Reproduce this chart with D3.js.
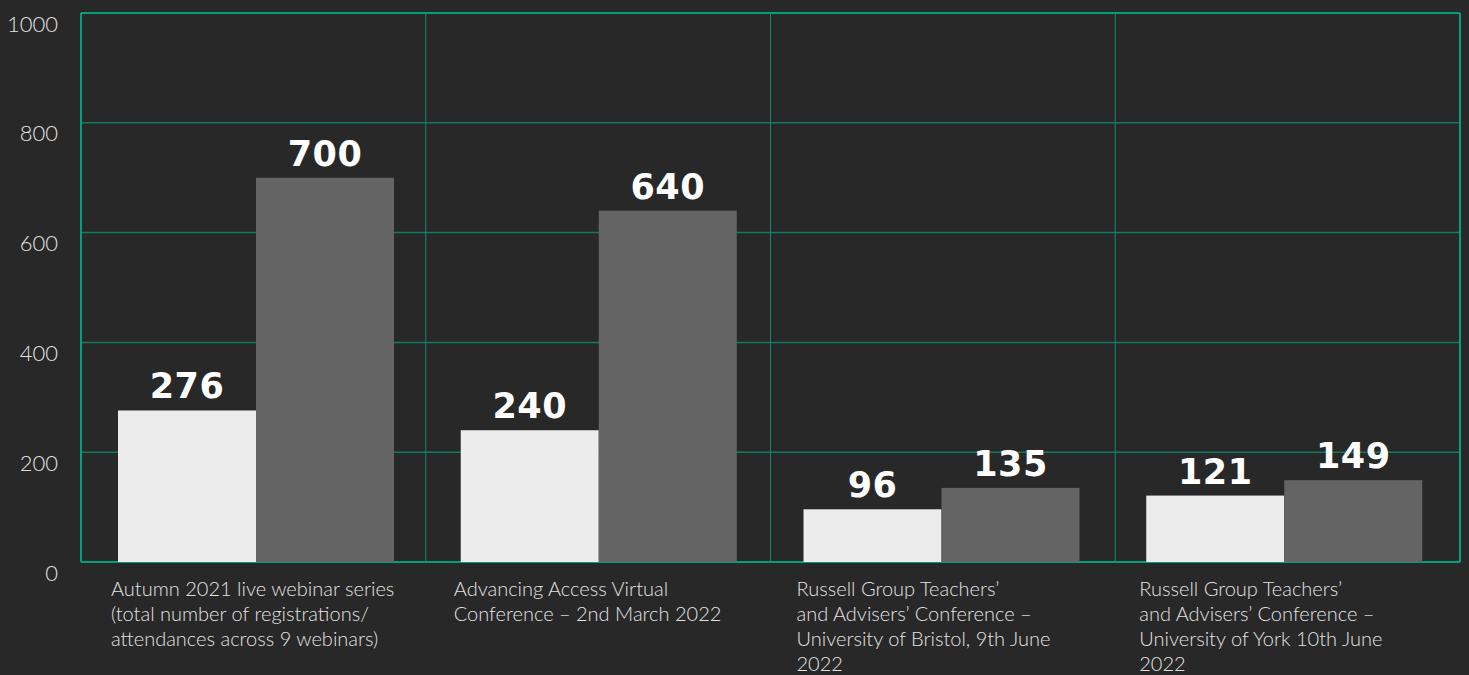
<!DOCTYPE html>
<html>
<head>
<meta charset="utf-8">
<script src="https://cdn.jsdelivr.net/npm/d3@7"></script>
<style>
	html, body { margin: 0; padding: 0; background: #282828; }
	svg { display: block; }
</style>
</head>
<body>
<div id="chart"></div>
<script>
// categories, one entry per group, already broken into lines like the original
var categories = [
	['Autumn 2021 live webinar series', '(total number of registrations/', 'attendances across 9 webinars)'],
	['Advancing Access Virtual', 'Conference \u2013 2nd March 2022'],
	['Russell Group Teachers\u2019', 'and Advisers\u2019 Conference \u2013', 'University of Bristol, 9th June', '2022'],
	['Russell Group Teachers\u2019', 'and Advisers\u2019 Conference \u2013', 'University of York 10th June', '2022']
];
var attendances = [276, 240, 96, 121];
var registrations = [700, 640, 135, 149];
var yTicks = [0, 200, 400, 600, 800, 1000];

var width = 1469, height = 675;
var margin = { top: 13, right: 9, bottom: 113, left: 81 };

var svg = d3.select('#chart')
	.append('svg')
	.attr('width', width)
	.attr('height', height);

svg.append('rect')
	.attr('width', width)
	.attr('height', height)
	.attr('fill', '#282828');

// grid columns
var x0 = d3.scaleBand()
	.domain(d3.range(categories.length))
	.range([margin.left, width - margin.right])
	.padding(0);

// bar groups sit on a slightly narrower band than the grid
var xg = d3.scaleBand()
	.domain(d3.range(categories.length))
	.range([margin.left, width - margin.right - 8])
	.padding(0);

var x1 = d3.scaleBand()
	.domain(['a', 'r'])
	.range([37, 313])
	.padding(0);

var y = d3.scaleLinear()
	.domain([0, 1000])
	.range([height - margin.bottom, margin.top]);

// grid
var grid = svg.append('g');
grid.selectAll('line.h')
	.data(yTicks)
	.enter().append('line')
	.attr('x1', margin.left)
	.attr('x2', width - margin.right)
	.attr('y1', function(d) { return y(d); })
	.attr('y2', function(d) { return y(d); })
	.attr('stroke', function(d) { return (d === 0 || d === 1000) ? '#00a07e' : '#137a62'; })
	.attr('stroke-width', function(d) { return (d === 0 || d === 1000) ? 2 : 1.5; });

var vlines = d3.range(1, categories.length).map(function(i) { return x0(i); });
grid.selectAll('line.v')
	.data(vlines)
	.enter().append('line')
	.attr('x1', function(d) { return d; })
	.attr('x2', function(d) { return d; })
	.attr('y1', y(1000))
	.attr('y2', y(0))
	.attr('stroke', '#0f8a6c')
	.attr('stroke-width', 1);

grid.append('line')
	.attr('x1', margin.left).attr('x2', margin.left)
	.attr('y1', y(1000)).attr('y2', y(0))
	.attr('stroke', '#00a07e').attr('stroke-width', 2);
grid.append('line')
	.attr('x1', width - margin.right).attr('x2', width - margin.right)
	.attr('y1', y(1000)).attr('y2', y(0))
	.attr('stroke', '#00a07e').attr('stroke-width', 2);

// y tick labels
var yAxis = d3.axisLeft(y).tickValues(yTicks).tickFormat(d3.format('d')).tickSize(0).tickPadding(0);
var ya = svg.append('g')
	.attr('transform', 'translate(' + (margin.left - 23) + ',11)')
	.call(yAxis);
ya.select('.domain').remove();
ya.selectAll('text')
	.attr('fill', '#e2e2e2')
	.style('font-family', 'Lato, sans-serif')
	.style('font-weight', 300)
	.style('font-size', '22px');

// bars
var groups = svg.selectAll('g.cat')
	.data(categories)
	.enter().append('g')
	.attr('transform', function(d, i) { return 'translate(' + xg(i) + ',0)'; });

groups.append('rect')
	.attr('x', x1('a'))
	.attr('width', x1.bandwidth())
	.attr('y', function(d, i) { return y(attendances[i]); })
	.attr('height', function(d, i) { return y(0) - y(attendances[i]); })
	.attr('fill', '#ececec');

groups.append('rect')
	.attr('x', x1('r'))
	.attr('width', x1.bandwidth())
	.attr('y', function(d, i) { return y(registrations[i]); })
	.attr('height', function(d, i) { return y(0) - y(registrations[i]); })
	.attr('fill', '#646464');

function valueLabel(key, values) {
	groups.append('text')
		.attr('x', x1(key) + x1.bandwidth() / 2)
		.attr('y', function(d, i) { return y(values[i]) - 12; })
		.attr('text-anchor', 'middle')
		.attr('fill', '#ffffff')
		.style('font-family', '"DejaVu Sans", sans-serif')
		.style('font-weight', 'bold')
		.style('font-size', '35px')
		.style('letter-spacing', '0.5px')
		.text(function(d, i) { return values[i]; });
}
valueLabel('a', attendances);
valueLabel('r', registrations);

// category labels
var cl = groups.append('text')
	.attr('fill', '#e2e2e2')
	.style('font-family', 'Lato, sans-serif')
	.style('font-weight', 300)
	.style('font-size', '20px');

cl.selectAll('tspan')
	.data(function(d) { return d; })
	.enter().append('tspan')
	.attr('x', x1('a') - 7)
	.attr('y', function(d, i) { return y(0) + 34 + i * 25; })
	.text(function(d) { return d; });
</script>
</body>
</html>
